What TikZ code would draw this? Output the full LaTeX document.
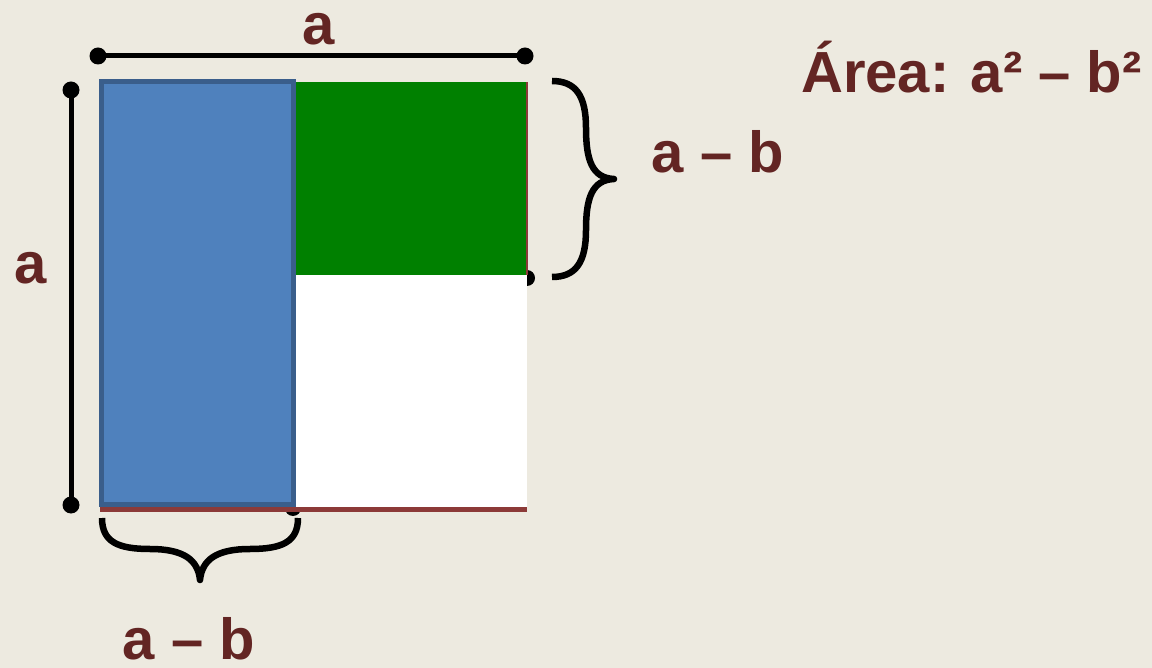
\documentclass[tikz,border=0pt]{standalone}
\usepackage{fontspec}
\setmainfont{Liberation Sans}
\definecolor{bg}{RGB}{237,234,224}
\definecolor{bluefill}{RGB}{79,129,189}
\definecolor{blueedge}{RGB}{58,94,139}
\definecolor{grn}{RGB}{0,128,0}
\definecolor{redline}{RGB}{140,58,56}
\definecolor{txt}{RGB}{99,37,35}
\tikzset{
  lbl/.style={text=txt,font=\bfseries\fontsize{58}{60}\selectfont,anchor=base,inner sep=0pt,text depth=0pt},
  dimline/.style={draw=black,line width=5pt},
  bracestyle/.style={draw=black,line width=6.5pt,line join=round},
  dotc/.style={fill=black}
}
\begin{document}
\begin{tikzpicture}[x=1pt,y=-1pt]
\fill[bg] (0,0) rectangle (1152,668);
\useasboundingbox (0,0) rectangle (1152,668);
% coordinates
\coordinate (tl) at (98,56);
\coordinate (tr) at (525,56);
\coordinate (lt) at (71,90);
\coordinate (lb) at (71,505);
% hidden dots behind rectangles
\fill[dotc] (293,508) circle (8);
\fill[dotc] (527,278) circle (8);
% green rect
\fill[grn] (293,82) rectangle (527,275);
\draw[redline,line width=1.5pt] (527,82) -- (527,275);
% white rect
\fill[white] (295,275) rectangle (527,507);
% blue rect
\filldraw[fill=bluefill,draw=blueedge,line width=5pt] (101.5,81.5) rectangle (293.5,504.5);
% red bottom line
\draw[redline,line width=4.5pt] (100,509.5) -- (527,509.5);
% dimension lines
\draw[dimline] (tl) -- (tr);
\fill[dotc] (tl) circle (8.5);
\fill[dotc] (tr) circle (8.5);
\draw[dimline] (lt) -- (lb);
\fill[dotc] (lt) circle (8.5);
\fill[dotc] (lb) circle (8.5);
% right brace
\draw[bracestyle] (552,81) .. controls (576,81) and (586,96) .. (586,128)
  .. controls (586,160) and (592,178) .. (614,179)
  .. controls (592,180) and (586,198) .. (586,230)
  .. controls (586,262) and (576,277) .. (552,277);
% bottom brace
\draw[bracestyle] (102,518) .. controls (102,542) and (118,549) .. (150,549)
  .. controls (184,549) and (198,560) .. (200,580)
  .. controls (202,560) and (216,549) .. (250,549)
  .. controls (282,549) and (298,542) .. (298,518);
% labels
\node[lbl] (atop) at (319,45) {a};
\node[lbl] (aleft) at (30.5,284) {a};
\node[lbl] (abright) at (718,173) {a – b};
\node[lbl] (abbottom) at (189,659) {a – b};
\node[lbl] (area) at (971.5,93) {Área: a² – b²};
\end{tikzpicture}
\end{document}
